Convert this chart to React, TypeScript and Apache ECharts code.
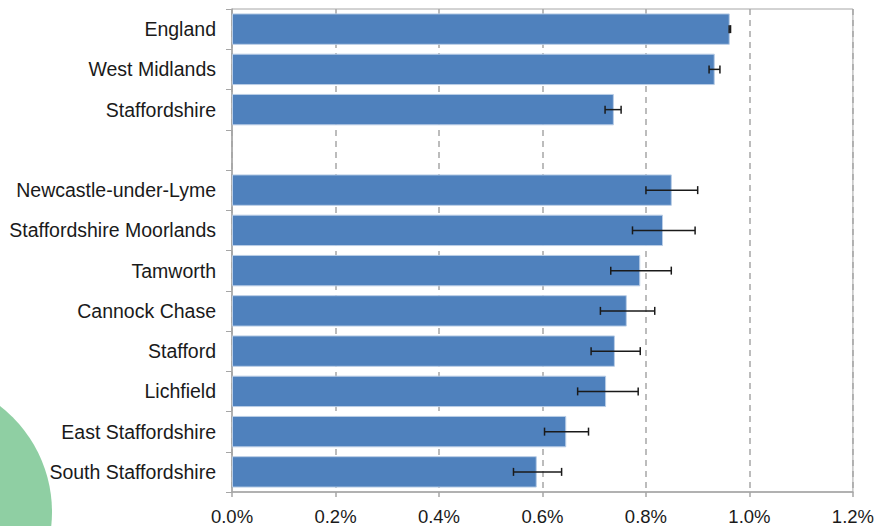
import React, { useEffect, useRef } from "react";
import * as echarts from "echarts";

const categories = [
  "England",
  "West Midlands",
  "Staffordshire",
  "",
  "Newcastle-under-Lyme",
  "Staffordshire Moorlands",
  "Tamworth",
  "Cannock Chase",
  "Stafford",
  "Lichfield",
  "East Staffordshire",
  "South Staffordshire",
];

const values: (number | null)[] = [
  0.962, 0.933, 0.738, null, 0.85, 0.833, 0.789, 0.763, 0.74, 0.723, 0.646, 0.589,
];

const lowerCI: (number | null)[] = [
  0.9608, 0.922, 0.721, null, 0.8, 0.774, 0.732, 0.712, 0.694, 0.668, 0.604, 0.544,
];

const upperCI: (number | null)[] = [
  0.9635, 0.943, 0.752, null, 0.9, 0.895, 0.849, 0.817, 0.789, 0.785, 0.689, 0.637,
];

const xTicks = [0, 0.2, 0.4, 0.6, 0.8, 1.0, 1.2];

export default function App() {
  const ref = useRef<HTMLDivElement>(null);

  useEffect(() => {
    if (!ref.current) return;
    const chart = echarts.init(ref.current, undefined, { renderer: "svg" });

    const errData = categories
      .map((_, i) => [i, lowerCI[i], upperCI[i]])
      .filter((d) => d[1] != null);

    chart.setOption({
      animation: false,
      backgroundColor: "#ffffff",
      textStyle: { fontFamily: "Liberation Sans, Arial, sans-serif" },
      graphic: [
        {
          type: "circle",
          z: -10,
          shape: { cx: -82, cy: 512, r: 134 },
          style: { fill: "#8fcfa3" },
        },
      ],
      grid: {
        left: 232,
        right: 24,
        top: 9,
        bottom: 34,
        show: true,
        borderColor: "#a6a6a6",
        borderWidth: 1,
        backgroundColor: "transparent",
      },
      xAxis: {
        type: "value",
        min: xTicks[0],
        max: xTicks[xTicks.length - 1],
        interval: 0.2,
        axisLine: { show: true, lineStyle: { color: "#a6a6a6", width: 1.5 } },
        axisTick: { show: true, length: 5, lineStyle: { color: "#a6a6a6", width: 1.5 } },
        axisLabel: {
          margin: 15,
          fontSize: 18.5,
          color: "#1a1a1a",
          fontFamily: "Liberation Sans, Arial, sans-serif",
          formatter: (v: number) => v.toFixed(1) + "%",
        },
        splitLine: {
          show: true,
          lineStyle: { color: "#a6a6a6", type: [6, 5], width: 1.5 },
        },
      },
      yAxis: {
        type: "category",
        data: categories,
        inverse: true,
        axisLine: { show: true, lineStyle: { color: "#a6a6a6", width: 1.5 } },
        axisTick: { show: true, length: 6, alignWithLabel: false, lineStyle: { color: "#a6a6a6", width: 1 } },
        axisLabel: {
          margin: 16,
          fontSize: 19.5,
          color: "#1a1a1a",
          fontFamily: "Liberation Sans, Arial, sans-serif",
        },
        splitLine: { show: false },
      },
      series: [
        {
          type: "bar",
          data: values,
          barCategoryGap: "22%",
          itemStyle: {
            color: "#4f81bd",
            borderColor: "#b9cde6",
            borderWidth: 1,
          },
          z: 2,
        },
        {
          type: "custom",
          data: errData,
          z: 5,
          encode: { x: [1, 2], y: 0 },
          renderItem: (params: any, api: any) => {
            const cat = api.value(0);
            const lo = api.coord([api.value(1), cat]);
            const hi = api.coord([api.value(2), cat]);
            const cap = 4;
            const style = { stroke: "#1a1a1a", lineWidth: 1.5 };
            return {
              type: "group",
              children: [
                { type: "line", shape: { x1: lo[0], y1: lo[1], x2: hi[0], y2: hi[1] }, style },
                { type: "line", shape: { x1: lo[0], y1: lo[1] - cap, x2: lo[0], y2: lo[1] + cap }, style },
                { type: "line", shape: { x1: hi[0], y1: hi[1] - cap, x2: hi[0], y2: hi[1] + cap }, style },
              ],
            };
          },
        },
      ],
    });

    return () => chart.dispose();
  }, []);

  return (
    <div
      ref={ref}
      style={{ position: "absolute", left: 0, top: 0, width: 877, height: 526 }}
    />
  );
}
